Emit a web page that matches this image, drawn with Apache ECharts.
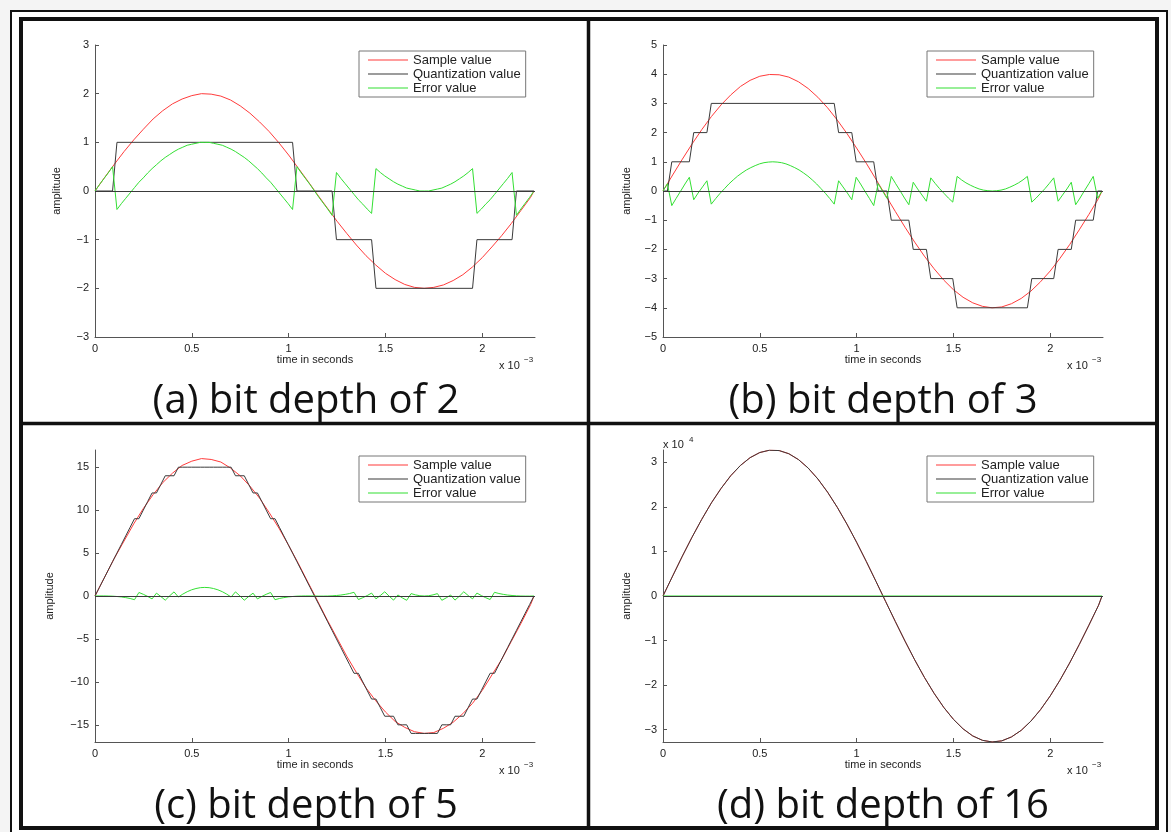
<!DOCTYPE html>
<html>
<head>
<meta charset="utf-8">
<title>bit depth</title>
<script src="https://cdn.jsdelivr.net/npm/echarts@6/dist/echarts.min.js"></script>
<style>
    html, body { margin: 0; padding: 0; background: #f4f4f4; }
    #container { width: 1171px; height: 832px; }
</style>
</head>
<body>
<div id="container"></div>
<script type="text/javascript">
    // time axis is in units of 10^-3 s
    var tSample = [0, 0.05, 0.1, 0.15, 0.2, 0.25, 0.3, 0.35, 0.4, 0.45, 0.5, 0.55, 0.6, 0.65, 0.7, 0.75, 0.8, 0.85, 0.9, 0.95,
        1, 1.05, 1.1, 1.15, 1.2, 1.25, 1.3, 1.35, 1.4, 1.45, 1.5, 1.55, 1.6, 1.65, 1.7, 1.75, 1.8, 1.85, 1.9, 1.95,
        2, 2.05, 2.1, 2.15, 2.2, 2.25, 2.2676];

    var sampleA = [0, 0.28, 0.55, 0.81, 1.05, 1.27, 1.48, 1.65, 1.79, 1.89, 1.96, 2, 1.99, 1.95, 1.87, 1.75, 1.6, 1.42, 1.22, 0.99,
        0.74, 0.47, 0.2, -0.08, -0.35, -0.62, -0.87, -1.11, -1.33, -1.52, -1.69, -1.82, -1.92, -1.98, -2, -1.98, -1.93, -1.84, -1.72, -1.56,
        -1.37, -1.15, -0.92, -0.67, -0.4, -0.13, 0];
    var sampleB = [0, 0.55, 1.09, 1.61, 2.1, 2.55, 2.95, 3.29, 3.58, 3.79, 3.93, 3.99, 3.98, 3.9, 3.74, 3.51, 3.21, 2.85, 2.43, 1.97,
        1.47, 0.95, 0.4, -0.15, -0.7, -1.24, -1.75, -2.23, -2.66, -3.05, -3.38, -3.64, -3.83, -3.95, -4, -3.97, -3.86, -3.68, -3.43, -3.11,
        -2.74, -2.31, -1.84, -1.33, -0.8, -0.25, 0];
    var sampleC = [0, 2.2, 4.4, 6.4, 8.4, 10.2, 11.8, 13.2, 14.3, 15.2, 15.7, 16, 15.9, 15.6, 14.9, 14, 12.8, 11.4, 9.7, 7.9,
        5.9, 3.8, 1.6, -0.6, -2.8, -4.9, -7, -8.9, -10.7, -12.2, -13.5, -14.6, -15.3, -15.8, -16, -15.9, -15.4, -14.7, -13.7, -12.5,
        -11, -9.2, -7.4, -5.3, -3.2, -1, 0];
    var sampleD = [0, 4500, 8950, 13200, 17200, 20900, 24150, 27000, 29300, 31050, 32200, 32720, 32640, 31930, 30610, 28710, 26260, 23310, 19920, 16140,
        12060, 7750, 3290, -1240, -5730, -10120, -14320, -18250, -21820, -24990, -27670, -29820, -31410, -32390, -32760, -32510, -31630, -30160, -28100, -25510,
        -22430, -18920, -15060, -10900, -6540, -2060, 0];
    var quantD = sampleD; // at 16 bits the steps are too small to see

    // sampling instants (44.1 kHz)
    var time = [0, 0.0227, 0.0454, 0.0680, 0.0907, 0.1134, 0.1361, 0.1587, 0.1814, 0.2041, 0.2268, 0.2494, 0.2721, 0.2948, 0.3175, 0.3401,
        0.3628, 0.3855, 0.4082, 0.4308, 0.4535, 0.4762, 0.4989, 0.5215, 0.5442, 0.5669, 0.5896, 0.6122, 0.6349, 0.6576, 0.6803, 0.7029,
        0.7256, 0.7483, 0.7710, 0.7937, 0.8163, 0.8390, 0.8617, 0.8844, 0.9070, 0.9297, 0.9524, 0.9751, 0.9977, 1.0204, 1.0431, 1.0658,
        1.0884, 1.1111, 1.1338, 1.1565, 1.1791, 1.2018, 1.2245, 1.2472, 1.2698, 1.2925, 1.3152, 1.3379, 1.3605, 1.3832, 1.4059, 1.4286,
        1.4512, 1.4739, 1.4966, 1.5193, 1.5420, 1.5646, 1.5873, 1.6100, 1.6327, 1.6553, 1.6780, 1.7007, 1.7234, 1.7460, 1.7687, 1.7914,
        1.8141, 1.8367, 1.8594, 1.8821, 1.9048, 1.9274, 1.9501, 1.9728, 1.9955, 2.0181, 2.0408, 2.0635, 2.0862, 2.1088, 2.1315, 2.1542,
        2.1769, 2.1995, 2.2222, 2.2449, 2.2676];

    var errA = [0, 0.13, 0.25, 0.37, 0.5, -0.38, -0.26, -0.15, -0.04, 0.07, 0.18, 0.27, 0.37, 0.46, 0.54, 0.62, 0.69, 0.75, 0.81, 0.86, 0.9, 0.94, 0.96, 0.98, 1, 1,
        1, 0.98, 0.96, 0.94, 0.9, 0.86, 0.81, 0.75, 0.69, 0.62, 0.54, 0.46, 0.37, 0.27, 0.18, 0.07, -0.04, -0.15, -0.26, -0.38, 0.5, 0.37, 0.25, 0.13, 0,
        -0.13, -0.25, -0.37, -0.5, 0.38, 0.26, 0.15, 0.04, -0.07, -0.18, -0.27, -0.37, -0.46, 0.46, 0.38, 0.31, 0.25, 0.19, 0.14, 0.1, 0.06, 0.04, 0.02, 0, 0,
        0, 0.02, 0.04, 0.06, 0.1, 0.14, 0.19, 0.25, 0.31, 0.38, 0.46, -0.46, -0.37, -0.27, -0.18, -0.07, 0.04, 0.15, 0.26, 0.38, -0.5, -0.37, -0.25, -0.13, 0];
    var errB = [0, 0.25, -0.5, -0.25, -0.01, 0.24, 0.47, -0.3, -0.07, 0.14, 0.35, -0.45, -0.26, -0.08, 0.08, 0.24, 0.38, 0.51, 0.62, 0.72, 0.8, 0.87, 0.93, 0.97, 0.99, 1,
        0.99, 0.97, 0.93, 0.87, 0.8, 0.72, 0.62, 0.51, 0.38, 0.24, 0.08, -0.08, -0.26, -0.45, 0.35, 0.14, -0.07, -0.3, 0.47, 0.24, -0.01, -0.25, -0.5, 0.25, 0,
        -0.25, 0.5, 0.25, 0.01, -0.24, -0.47, 0.3, 0.07, -0.14, -0.35, 0.45, 0.26, 0.08, -0.08, -0.24, -0.38, 0.5, 0.38, 0.28, 0.2, 0.13, 0.07, 0.03, 0.01, 0,
        0.01, 0.03, 0.07, 0.13, 0.2, 0.28, 0.38, 0.5, -0.38, -0.24, -0.08, 0.08, 0.26, 0.45, -0.35, -0.14, 0.07, 0.3, -0.47, -0.24, 0.01, 0.25, 0.5, -0.25, 0];
    var errC = [0, 0.01, 0.01, 0, -0.02, -0.06, -0.11, -0.19, -0.29, -0.43, 0.41, 0.2, -0.05, -0.34, 0.33, -0.06, -0.49, 0.02, 0.48, -0.12, 0.22, 0.5, 0.72, 0.87, 0.97, 1,
        0.97, 0.87, 0.72, 0.5, 0.22, -0.12, 0.48, 0.02, -0.49, -0.06, 0.33, -0.34, -0.05, 0.2, 0.41, -0.43, -0.29, -0.19, -0.11, -0.06, -0.02, 0, 0.01, 0.01, 0,
        -0.01, -0.01, 0, 0.02, 0.06, 0.11, 0.19, 0.29, 0.43, -0.41, -0.2, 0.05, 0.34, -0.33, 0.06, 0.49, -0.02, -0.48, 0.12, -0.22, -0.5, 0.28, 0.13, 0.03, 0,
        0.03, 0.13, 0.28, -0.5, -0.22, 0.12, -0.48, -0.02, 0.49, 0.06, -0.33, 0.34, 0.05, -0.2, -0.41, 0.43, 0.29, 0.19, 0.11, 0.06, 0.02, 0, -0.01, -0.01, 0];
    var quantC = [0, 1, 2, 3, 4, 5, 6, 7, 8, 9, 9, 10, 11, 12, 12, 13, 14, 14, 14, 15, 15, 15, 15, 15, 15, 15,
        15, 15, 15, 15, 15, 15, 14, 14, 14, 13, 12, 12, 11, 10, 9, 9, 8, 7, 6, 5, 4, 3, 2, 1, 0,
        -1, -2, -3, -4, -5, -6, -7, -8, -9, -9, -10, -11, -12, -12, -13, -14, -14, -14, -15, -15, -15, -16, -16, -16, -16,
        -16, -16, -16, -15, -15, -15, -14, -14, -14, -13, -12, -12, -11, -10, -9, -9, -8, -7, -6, -5, -4, -3, -2, -1, 0];

    // quantized levels for 2 and 3 bits, only where the level changes
    var quantATime = [0, 0.0907, 0.1134, 1.0204, 1.0431, 1.2245, 1.2472, 1.4286, 1.4512, 1.9501, 1.9728, 2.1542, 2.1769, 2.2676];
    var quantA = [0, 0, 1, 1, 0, 0, -1, -1, -2, -2, -1, -1, 0, 0];
    var quantBTime = [0, 0.0227, 0.0454, 0.1361, 0.1587, 0.2268, 0.2494, 0.8844, 0.9070, 0.9751, 0.9977, 1.0884, 1.1111, 1.1565, 1.1791,
        1.2698, 1.2925, 1.3605, 1.3832, 1.4966, 1.5193, 1.8821, 1.9048, 2.0181, 2.0408, 2.1088, 2.1315, 2.2222, 2.2449, 2.2676];
    var quantB = [0, 0, 1, 1, 2, 2, 3, 3, 2, 2, 1, 1, 0, 0, -1, -1, -2, -2, -3, -3, -4, -4, -3, -3, -2, -2, -1, -1, 0, 0];

    var errDTime = [0, 2.2676];
    var errD = [0, 0];

    var xTicks = [0, 0.5, 1, 1.5, 2];
    var yTicksA = [-3, -2, -1, 0, 1, 2, 3];
    var yTicksB = [-5, -4, -3, -2, -1, 0, 1, 2, 3, 4, 5];
    var yTicksC = [-15, -10, -5, 0, 5, 10, 15];
    var yTicksD = [-30000, -20000, -10000, 0, 10000, 20000, 30000];

    var seriesNames = ['Sample value', 'Quantization value', 'Error value'];
    var captions = ['(a) bit depth of 2', '(b) bit depth of 3', '(c) bit depth of 5', '(d) bit depth of 16'];

    var colors = ['#ff3b3b', '#3a3a3a', '#33e033'];

    function pairs(xs, ys) {
        var out = [];
        for (var i = 0; i < xs.length; i++) out.push([xs[i], ys[i]]);
        return out;
    }

    function minus(v) {
        return v < 0 ? '\u2212' + Math.abs(v) : String(v);
    }

    var panels = [
        {left: 95, top: 45, yMin: -3, yMax: 3, yTicks: yTicksA, nameGap: 33, scale: 1,
            sample: sampleA, quant: pairs(quantATime, quantA), err: pairs(time, errA)},
        {left: 663, top: 45, yMin: -5, yMax: 5, yTicks: yTicksB, nameGap: 31, scale: 1,
            sample: sampleB, quant: pairs(quantBTime, quantB), err: pairs(time, errB)},
        {left: 95, top: 450, yMin: -17, yMax: 17, yTicks: yTicksC, nameGap: 40, scale: 1,
            sample: sampleC, quant: pairs(time, quantC), err: pairs(time, errC)},
        {left: 663, top: 450, yMin: -32768, yMax: 32767, yTicks: yTicksD, nameGap: 31, scale: 10000,
            sample: sampleD, quant: pairs(tSample, quantD), err: pairs(errDTime, errD)}
    ];

    var PW = 440, PH = 292;
    var axisColor = '#555';
    var textColor = '#222';
    var font = '"Liberation Sans", Arial, sans-serif';

    var grids = [], xAxes = [], yAxes = [], series = [], legends = [], graphics = [];

    graphics.push({type: 'rect', z: -10, shape: {x: 11, y: 11, width: 1156, height: 840},
        style: {fill: '#fff', stroke: '#111', lineWidth: 2}});
    graphics.push({type: 'rect', z: -9, shape: {x: 21, y: 19, width: 1136, height: 809},
        style: {fill: 'none', stroke: '#111', lineWidth: 4}});
    graphics.push({type: 'line', z: -9, shape: {x1: 588.5, y1: 19, x2: 588.5, y2: 828},
        style: {stroke: '#111', lineWidth: 3.5}});
    graphics.push({type: 'line', z: -9, shape: {x1: 21, y1: 423.5, x2: 1157, y2: 423.5},
        style: {stroke: '#111', lineWidth: 3.5}});

    panels.forEach(function (p, i) {
        grids.push({left: p.left, top: p.top, width: PW, height: PH, outerBoundsMode: 'none'});
        xAxes.push({
            gridIndex: i, type: 'value', min: 0, max: 2.2727,
            name: 'time in seconds', nameLocation: 'middle', nameGap: 16,
            nameTextStyle: {fontSize: 11, color: textColor, fontFamily: font, verticalAlign: 'top'},
            axisLine: {onZero: false, lineStyle: {color: axisColor, width: 1}},
            axisTick: {inside: true, length: 4, customValues: xTicks, lineStyle: {color: axisColor}},
            axisLabel: {customValues: xTicks, margin: 6, fontSize: 11, color: textColor, fontFamily: font},
            splitLine: {show: false}
        });
        yAxes.push({
            gridIndex: i, type: 'value', min: p.yMin, max: p.yMax,
            name: 'amplitude', nameLocation: 'middle', nameGap: p.nameGap, nameRotate: 90,
            nameTextStyle: {fontSize: 11, color: textColor, fontFamily: font},
            axisLine: {show: true, onZero: false, lineStyle: {color: axisColor, width: 1}},
            axisTick: {show: true, inside: true, length: 4, customValues: p.yTicks, lineStyle: {color: axisColor}},
            axisLabel: {customValues: p.yTicks, margin: 6, fontSize: 11, color: textColor, fontFamily: font,
                formatter: function (v) { return minus(Math.round(v / p.scale)); }},
            splitLine: {show: false}
        });
        series.push({
            name: seriesNames[0], type: 'line', xAxisIndex: i, yAxisIndex: i, symbol: 'none',
            data: pairs(tSample, p.sample), lineStyle: {color: colors[0], width: 1}, itemStyle: {color: colors[0]}
        });
        series.push({
            name: seriesNames[1], type: 'line', xAxisIndex: i, yAxisIndex: i, symbol: 'none',
            data: p.quant, lineStyle: {color: colors[1], width: 1}, itemStyle: {color: colors[1]}
        });
        series.push({
            name: seriesNames[2], type: 'line', xAxisIndex: i, yAxisIndex: i, symbol: 'none',
            data: p.err, lineStyle: {color: colors[2], width: 1}, itemStyle: {color: colors[2]},
            markLine: {
                silent: true, symbol: ['none', 'none'], label: {show: false},
                lineStyle: {color: colors[1], width: 1, type: 'solid'},
                data: [{yAxis: 0}]
            }
        });
        legends.push({
            left: p.left + PW - 176, top: p.top + 6, orient: 'vertical',
            data: seriesNames.slice(), selectedMode: false,
            icon: 'rect', itemWidth: 40, itemHeight: 1, itemGap: 0, padding: [2, 5, 2, 9],
            borderColor: '#777', borderWidth: 1, backgroundColor: '#fff',
            textStyle: {fontSize: 13, lineHeight: 14, color: textColor, fontFamily: font}
        });
        graphics.push({type: 'text', style: {
            text: captions[i], x: p.left + (i % 2 ? 220 : 211), y: p.top + 357,
            font: '40px "Open Sans", sans-serif', fill: '#111', align: 'center', verticalAlign: 'middle'}});
        graphics.push({type: 'text', style: {
            text: 'x 10', x: p.left + 404, y: p.top + PH + 29,
            font: '11px ' + font, fill: textColor, align: 'left', verticalAlign: 'middle'}});
        graphics.push({type: 'text', style: {
            text: '\u22123', x: p.left + 429, y: p.top + PH + 23,
            font: '8px ' + font, fill: textColor, align: 'left', verticalAlign: 'middle'}});
    });

    // exponent of the y axis in (d)
    graphics.push({type: 'text', style: {text: 'x 10', x: 663, y: 445,
        font: '11px ' + font, fill: textColor, align: 'left', verticalAlign: 'middle'}});
    graphics.push({type: 'text', style: {text: '4', x: 689, y: 440,
        font: '8px ' + font, fill: textColor, align: 'left', verticalAlign: 'middle'}});

    var myChart = echarts.init(document.getElementById('container'), null, {renderer: 'canvas'});
    var option = {
        backgroundColor: '#f4f4f4',
        animation: false,
        grid: grids,
        xAxis: xAxes,
        yAxis: yAxes,
        legend: legends,
        series: series,
        graphic: graphics
    };
    myChart.setOption(option);
</script>
</body>
</html>
